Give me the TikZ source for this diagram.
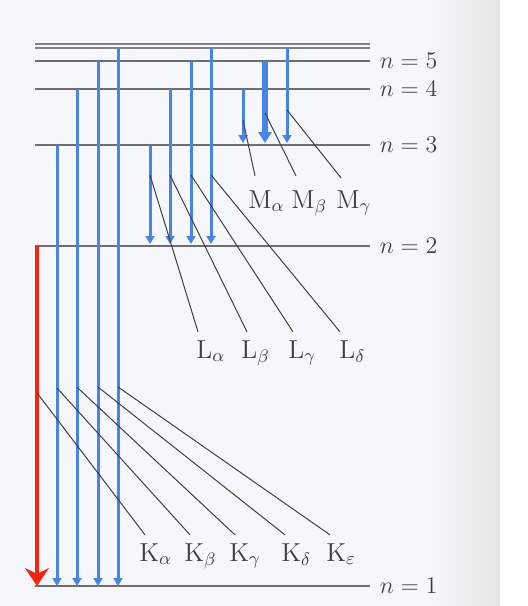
\documentclass[tikz,border=0pt]{standalone}
\usepackage{tikz}
\usetikzlibrary{arrows.meta,calc}
\definecolor{levelgray}{RGB}{110,110,110}
\definecolor{photonblue}{RGB}{72,132,232}
\definecolor{photonred}{RGB}{245,35,15}
\definecolor{paper}{RGB}{246,247,250}
\tikzset{
    levelline/.style={
        draw=levelgray,
        line width=0.9pt
    },
    levellabel/.style={
        anchor=west,
        xshift=3.5pt,
        inner sep=1pt,
        text=black!75,
        font=\fontsize{12.5}{14}\selectfont
    },
    linelabel/.style={
        anchor=base west,
        inner sep=2pt,
        text=black!75,
        font=\fontsize{13}{15}\selectfont
    },
    transition/.style={
        -{Triangle[width=4.5pt,length=4pt]},
        draw=photonblue,
        line width=1.5pt
    },
    strongtransition/.style={
        -{Triangle[width=6.5pt,length=5.5pt]},
        draw=photonblue,
        line width=2.6pt
    },
    katransition/.style={
        -{Stealth[width=12pt,length=9pt,inset=3pt]},
        draw=photonred,
        line width=2.4pt
    },
    leader/.style={
        draw=black!75,
        line width=0.5pt
    }
}

\begin{document}
\begin{tikzpicture}[x=0.5pt, y=-0.5pt]
    % Paper
    \fill[paper] (0,0) rectangle (527,606);
    \shade[left color=paper, right color=gray!20] (430,0) rectangle (500,606);
    \fill[white] (500,0) rectangle (527,606);
    \useasboundingbox (0,0) rectangle (527,606);

    % Energy levels
    \coordinate (linf) at (35,44);
    \coordinate (l6)   at (35,48);
    \coordinate (l5)   at (35,61);
    \coordinate (l4)   at (35,89);
    \coordinate (l3)   at (35,145);
    \coordinate (l2)   at (35,246);
    \coordinate (l1)   at (35,586);
    \coordinate (rim)  at (370,0);

    \draw[levelline, draw=levelgray!85] (linf) -- (linf -| rim);
    \draw[levelline, draw=levelgray!85] (l6) -- (l6 -| rim);
    \draw[levelline] (l5) -- (l5 -| rim) node[levellabel] (n5) {$n=5$};
    \draw[levelline] (l4) -- (l4 -| rim) node[levellabel] (n4) {$n=4$};
    \draw[levelline] (l3) -- (l3 -| rim) node[levellabel] (n3) {$n=3$};
    \draw[levelline] (l2) -- (l2 -| rim) node[levellabel] (n2) {$n=2$};
    \draw[levelline] (l1) -- (l1 -| rim) node[levellabel] (n1) {$n=1$};

    % Columns of the transitions
    \coordinate (Kacol) at (37,0);
    \coordinate (Kbcol) at (57,0);
    \coordinate (Kgcol) at (77,0);
    \coordinate (Kdcol) at (98,0);
    \coordinate (Kecol) at (118,0);
    \coordinate (Lacol) at (150,0);
    \coordinate (Lbcol) at (170,0);
    \coordinate (Lgcol) at (191,0);
    \coordinate (Ldcol) at (211,0);
    \coordinate (Macol) at (243,0);
    \coordinate (Mbcol) at (265,0);
    \coordinate (Mgcol) at (287,0);

    % --- K series: down to n = 1 ---
    \draw[katransition] (l2 -| Kacol) -- coordinate[pos=0.432] (Kafoot) (l1 -| Kacol);
    \draw[transition] (l3 -| Kbcol) -- coordinate[pos=0.551] (Kbfoot) (l1 -| Kbcol);
    \draw[transition] (l4 -| Kgcol) -- coordinate[pos=0.600] (Kgfoot) (l1 -| Kgcol);
    \draw[transition] (l5 -| Kdcol) -- coordinate[pos=0.621] (Kdfoot) (l1 -| Kdcol);
    \draw[transition] (l6 -| Kecol) -- coordinate[pos=0.630] (Kefoot) (l1 -| Kecol);

    % --- L series: down to n = 2 ---
    \draw[transition, shorten >=1pt] (l3 -| Lacol) -- coordinate[pos=0.297] (Lafoot) (l2 -| Lacol);
    \draw[transition, shorten >=1pt] (l4 -| Lbcol) -- coordinate[pos=0.548] (Lbfoot) (l2 -| Lbcol);
    \draw[transition, shorten >=1pt] (l5 -| Lgcol) -- coordinate[pos=0.616] (Lgfoot) (l2 -| Lgcol);
    \draw[transition, shorten >=1pt] (l6 -| Ldcol) -- coordinate[pos=0.641] (Ldfoot) (l2 -| Ldcol);

    % --- M series: down to n = 3 ---
    \draw[transition, shorten >=1pt] (l4 -| Macol) -- coordinate[pos=0.554] (Mafoot) (l3 -| Macol);
    \draw[strongtransition, shorten >=1pt] (l5 -| Mbcol) -- coordinate[pos=0.619] (Mbfoot) (l3 -| Mbcol);
    \draw[transition, shorten >=1pt] (l6 -| Mgcol) -- coordinate[pos=0.639] (Mgfoot) (l3 -| Mgcol);

    % Line names
    \node[linelabel] (Malpha) at (244,208) {M$_\alpha$};
    \node[linelabel] (Mbeta)  at (287,208) {M$_\beta$};
    \node[linelabel] (Mgamma) at (332,208) {M$_\gamma$};

    \node[linelabel] (Lalpha) at (192,358) {L$_\alpha$};
    \node[linelabel] (Lbeta)  at (237,358) {L$_\beta$};
    \node[linelabel] (Lgamma) at (284,358) {L$_\gamma$};
    \node[linelabel] (Ldelta) at (335,358) {L$_\delta$};

    \node[linelabel] (Kalpha)   at (135,561) {K$_\alpha$};
    \node[linelabel] (Kbeta)    at (180,561) {K$_\beta$};
    \node[linelabel] (Kgamma)   at (225,561) {K$_\gamma$};
    \node[linelabel] (Kdelta)   at (277,561) {K$_\delta$};
    \node[linelabel] (Kepsilon) at (322,561) {K$_\varepsilon$};

    % Leaders from the arrows to their names
    \draw[leader] (Mafoot) -- ([xshift=5.5pt,yshift=5pt]Malpha.north west);
    \draw[leader] (Mbfoot) -- ([xshift=4.5pt,yshift=5pt]Mbeta.north west);
    \draw[leader] (Mgfoot) -- ([xshift=4.5pt,yshift=4pt]Mgamma.north west);

    \draw[leader] (Lafoot) -- ([xshift=3pt,yshift=2pt]Lalpha.north west);
    \draw[leader] (Lbfoot) -- ([xshift=5pt,yshift=2pt]Lbeta.north west);
    \draw[leader] (Lgfoot) -- ([xshift=4.5pt,yshift=2pt]Lgamma.north west);
    \draw[leader] (Ldfoot) -- ([xshift=2.5pt,yshift=2pt]Ldelta.north west);

    \draw[leader] (Kafoot) -- ([xshift=5pt,yshift=2pt]Kalpha.north west);
    \draw[leader] (Kbfoot) -- ([xshift=5pt,yshift=2pt]Kbeta.north west);
    \draw[leader] (Kgfoot) -- ([xshift=5pt,yshift=2pt]Kgamma.north west);
    \draw[leader] (Kdfoot) -- ([xshift=4pt,yshift=2pt]Kdelta.north west);
    \draw[leader] (Kefoot) -- ([xshift=4pt,yshift=2pt]Kepsilon.north west);
\end{tikzpicture}
\end{document}
